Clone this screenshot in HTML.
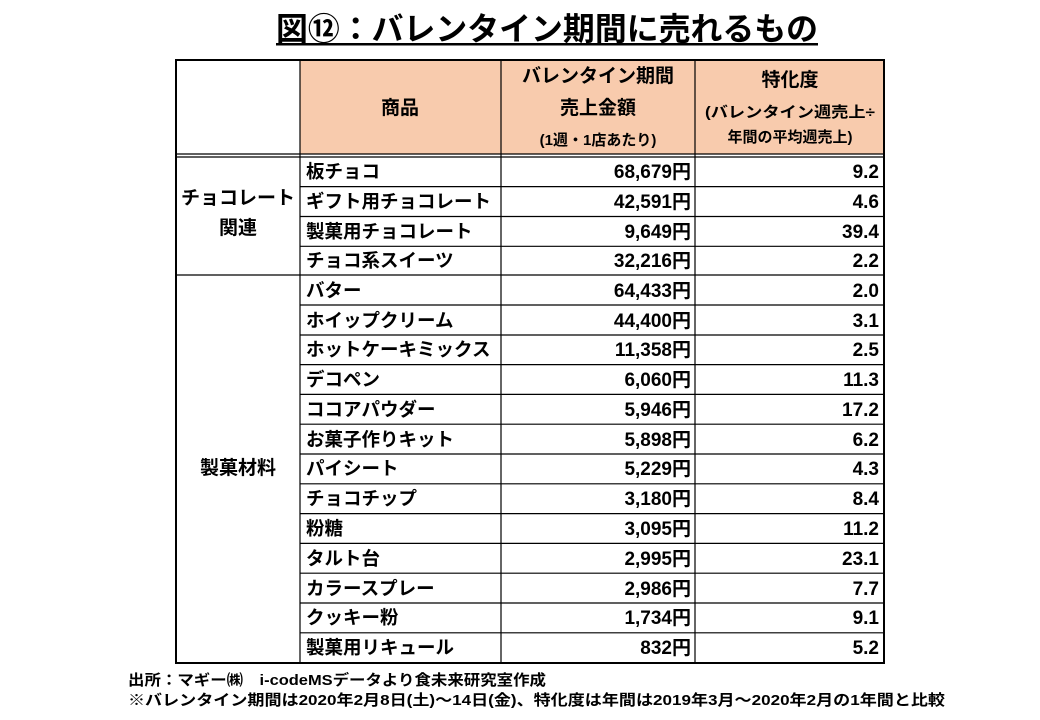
<!DOCTYPE html>
<html><head><meta charset="utf-8"><style>
html,body{margin:0;padding:0;background:#fff;width:1040px;height:720px;overflow:hidden}
svg text{font-family:"Liberation Sans","Noto Sans CJK JP",sans-serif;font-weight:bold;fill:#000}
</style></head><body>
<svg width="1040" height="720" viewBox="0 0 1040 720" xmlns="http://www.w3.org/2000/svg">
<text x="276" y="40" font-size="32" textLength="542" lengthAdjust="spacingAndGlyphs">図⑫：バレンタイン期間に売れるもの</text>
<rect x="276" y="43" width="542" height="2.5" fill="#000"/>
<rect x="300" y="61" width="584" height="93" fill="#f8cbad"/>
<g stroke="#000" stroke-width="1.2" fill="none">
<line x1="176" y1="154" x2="884" y2="154"/>
<line x1="176" y1="157" x2="884" y2="157"/>
<line x1="300" y1="60" x2="300" y2="663"/>
<line x1="501" y1="60" x2="501" y2="663"/>
<line x1="695" y1="60" x2="695" y2="663"/>
<line x1="176" y1="275" x2="884" y2="275"/>
<path d="M300 186.6H884M300 216.5H884M300 246.3H884M300 305H884M300 335H884M300 364.6H884M300 394.4H884M300 424.2H884M300 454H884M300 483.8H884M300 513.6H884M300 543.4H884M300 573.2H884M300 603H884M300 632.8H884"/>
</g>
<rect x="176" y="60" width="708" height="603" fill="none" stroke="#000" stroke-width="2"/>
<g font-size="19" text-anchor="middle">
<text x="400" y="114">商品</text>
<text x="598" y="82">バレンタイン期間</text>
<text x="598" y="114">売上金額</text>
<text x="598" y="145" font-size="15">(1週・1店あたり)</text>
<text x="790" y="86">特化度</text>
<text x="790" y="117" font-size="15" textLength="170" lengthAdjust="spacingAndGlyphs">(バレンタイン週売上÷</text>
<text x="790" y="142" font-size="15">年間の平均週売上)</text>
<text x="238" y="204">チョコレート</text>
<text x="238" y="234">関連</text>
<text x="238" y="474">製菓材料</text>
</g>
<g font-size="18.5">
<text x="306" y="178">板チョコ</text>
<text x="306" y="208">ギフト用チョコレート</text>
<text x="306" y="238">製菓用チョコレート</text>
<text x="306" y="267">チョコ系スイーツ</text>
<text x="306" y="297">バター</text>
<text x="306" y="327">ホイップクリーム</text>
<text x="306" y="356">ホットケーキミックス</text>
<text x="306" y="386">デコペン</text>
<text x="306" y="416">ココアパウダー</text>
<text x="306" y="446">お菓子作りキット</text>
<text x="306" y="475">パイシート</text>
<text x="306" y="505">チョコチップ</text>
<text x="306" y="535">粉糖</text>
<text x="306" y="565">タルト台</text>
<text x="306" y="595">カラースプレー</text>
<text x="306" y="624">クッキー粉</text>
<text x="306" y="654">製菓用リキュール</text>
</g>
<g font-size="19" text-anchor="end">
<text x="691" y="178">68,679円</text><text x="879" y="178">9.2</text>
<text x="691" y="208">42,591円</text><text x="879" y="208">4.6</text>
<text x="691" y="238">9,649円</text><text x="879" y="238">39.4</text>
<text x="691" y="267">32,216円</text><text x="879" y="267">2.2</text>
<text x="691" y="297">64,433円</text><text x="879" y="297">2.0</text>
<text x="691" y="327">44,400円</text><text x="879" y="327">3.1</text>
<text x="691" y="356">11,358円</text><text x="879" y="356">2.5</text>
<text x="691" y="386">6,060円</text><text x="879" y="386">11.3</text>
<text x="691" y="416">5,946円</text><text x="879" y="416">17.2</text>
<text x="691" y="446">5,898円</text><text x="879" y="446">6.2</text>
<text x="691" y="475">5,229円</text><text x="879" y="475">4.3</text>
<text x="691" y="505">3,180円</text><text x="879" y="505">8.4</text>
<text x="691" y="535">3,095円</text><text x="879" y="535">11.2</text>
<text x="691" y="565">2,995円</text><text x="879" y="565">23.1</text>
<text x="691" y="595">2,986円</text><text x="879" y="595">7.7</text>
<text x="691" y="624">1,734円</text><text x="879" y="624">9.1</text>
<text x="691" y="654">832円</text><text x="879" y="654">5.2</text>
</g>
<text x="128" y="685" font-size="15" textLength="418" lengthAdjust="spacingAndGlyphs">出所：マギー㈱　i-codeMSデータより食未来研究室作成</text>
<text x="128" y="705" font-size="15" textLength="817" lengthAdjust="spacingAndGlyphs">※バレンタイン期間は2020年2月8日(土)～14日(金)、特化度は年間は2019年3月～2020年2月の1年間と比較</text>
</svg>
</body></html>
